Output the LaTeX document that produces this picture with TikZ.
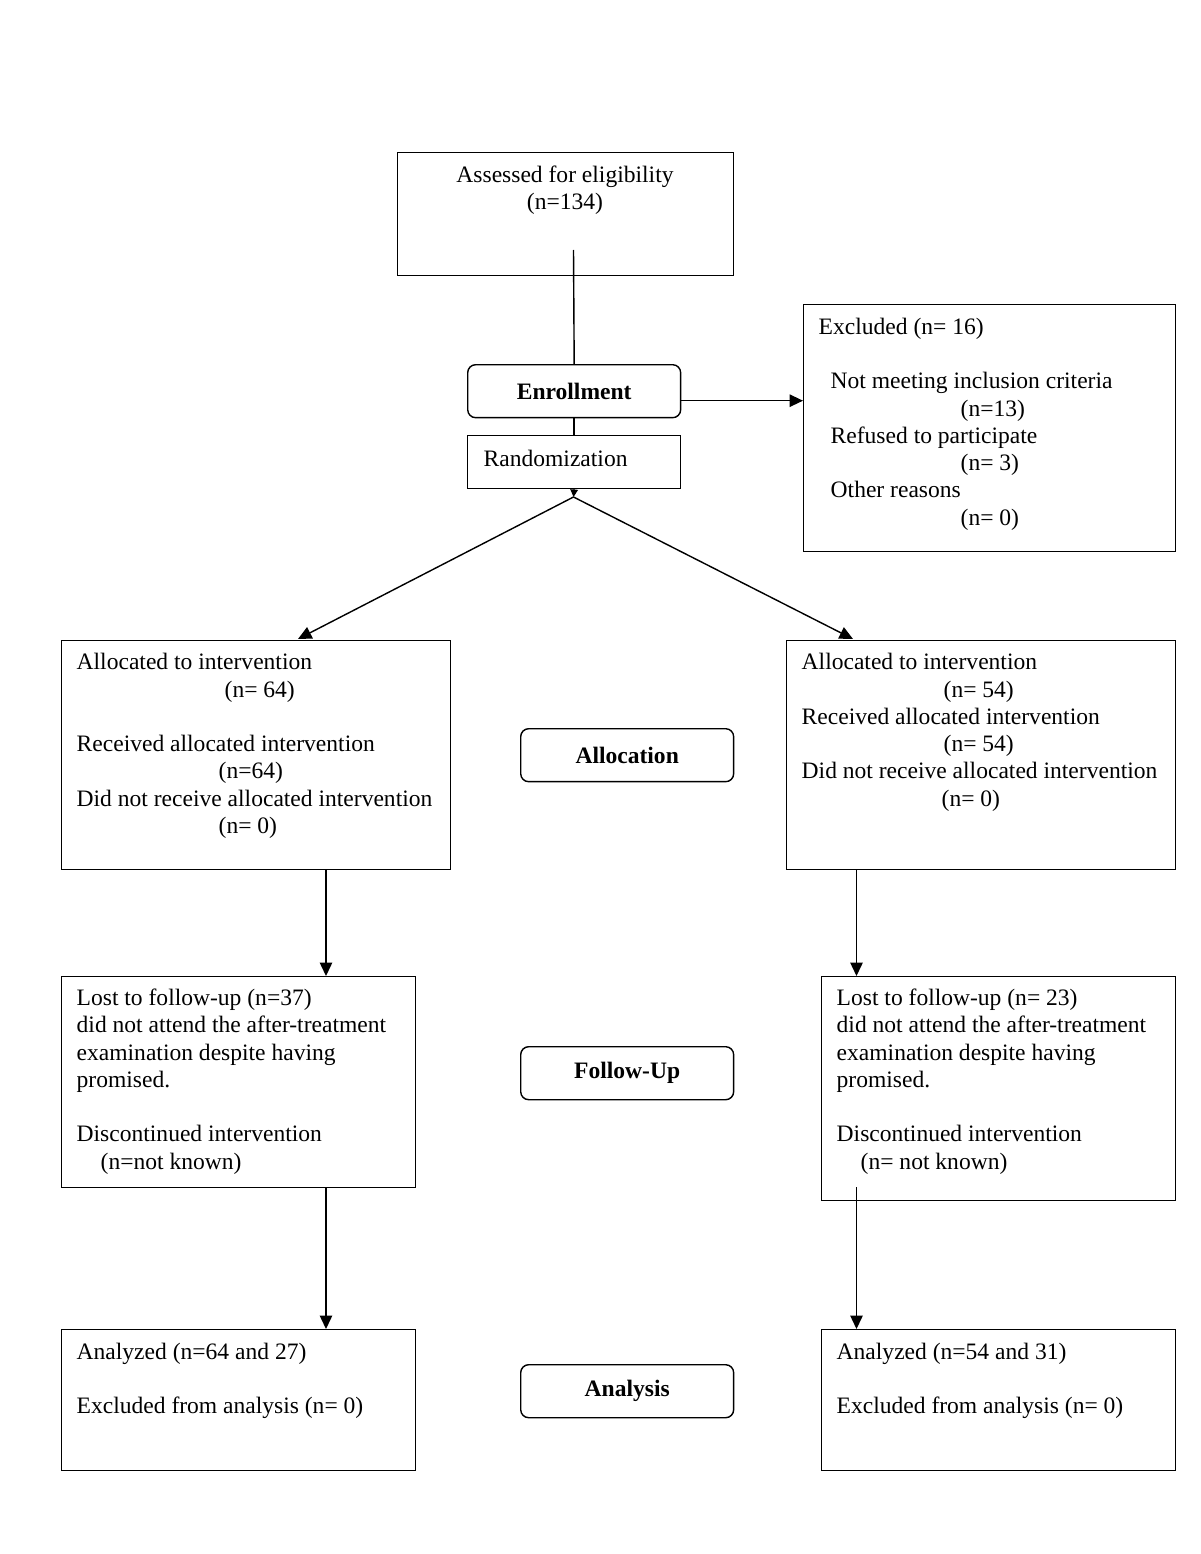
\documentclass[tikz,border=0pt]{standalone}
\usepackage{fontspec}
\setmainfont{Liberation Serif}
\usetikzlibrary{arrows.meta}

\begin{document}
\begin{tikzpicture}[x=0.02cm, y=-0.02cm, line width=.8pt,
  every node/.style={font=\fontsize{13.4}{15.5}\selectfont},
  box/.style={draw, anchor=north west, inner sep=0pt},
  phase/.style={draw, rounded corners=.16cm, anchor=north west, inner sep=0pt,
    minimum width=4.26cm, minimum height=1.06cm, font=\fontsize{13.4}{15.5}\selectfont\bfseries},
  txt/.style={anchor=north west, align=left, inner sep=0pt, execute at begin node=\strut},
  arr/.style={-{Triangle[length=.27cm,width=.25cm]}}]
\useasboundingbox (0,0) rectangle (1200,1554);

% enrollment
\node[box, minimum width=6.72cm, minimum height=2.46cm] (assess) at (397,152) {};
\node[anchor=north, align=center, inner sep=0pt, execute at begin node=\strut] at (565,165.4) {Assessed for eligibility\\(n=134)};
\node[phase] (enrol) at (467,364) {Enrollment};
\node[box, minimum width=4.26cm, minimum height=1.06cm] (rand) at (467,435) {};
\node[txt] at ([shift={(16,11.4)}]rand.north west) {Randomization};
\node[box, minimum width=7.44cm, minimum height=4.94cm] (excl) at (803,304) {};
\node[txt] at ([shift={(15,13.4)}]excl.north west) {Excluded (n= 16)\\[15.5pt]
  \hspace*{.24cm}Not meeting inclusion criteria\\
  \hspace*{2.84cm}(n=13)\\
  \hspace*{.24cm}Refused to participate\\
  \hspace*{2.84cm}(n= 3)\\
  \hspace*{.24cm}Other reasons\\
  \hspace*{2.84cm}(n= 0)};

% allocation
\node[box, minimum width=7.78cm, minimum height=4.58cm] (alloL) at (61,640) {};
\node[txt] at ([shift={(15,12.9)}]alloL.north west) {Allocated to intervention\\
  \hspace*{2.96cm}(n= 64)\\[15.5pt]
  Received allocated intervention\\
  \hspace*{2.84cm}(n=64)\\
  Did not receive allocated intervention\\
  \hspace*{2.84cm}(n= 0)};
\node[phase] (allocation) at (520,728) {Allocation};
\node[box, minimum width=7.78cm, minimum height=4.58cm] (alloR) at (786,640) {};
\node[txt] at ([shift={(15,12.9)}]alloR.north west) {Allocated to intervention\\
  \hspace*{2.84cm}(n= 54)\\
  Received allocated intervention\\
  \hspace*{2.84cm}(n= 54)\\
  Did not receive allocated intervention\\
  \hspace*{2.8cm}(n= 0)};

% follow-up
\node[box, minimum width=7.08cm, minimum height=4.22cm] (fuL) at (61,976) {};
\node[txt] at ([shift={(15,12.4)}]fuL.north west) {Lost to follow-up (n=37)\\
  did not attend the after-treatment\\
  examination despite having\\
  promised.\\[15.5pt]
  Discontinued intervention\\
  \hspace*{.48cm}(n=not known)};
\node[phase] (followup) at (520,1046) {Follow-Up};
\node[box, minimum width=7.08cm, minimum height=4.48cm] (fuR) at (821,976) {};
\node[txt] at ([shift={(15,12.4)}]fuR.north west) {Lost to follow-up (n= 23)\\
  did not attend the after-treatment\\
  examination despite having\\
  promised.\\[15.5pt]
  Discontinued intervention\\
  \hspace*{.48cm}(n= not known)};

% analysis
\node[box, minimum width=7.08cm, minimum height=2.82cm] (anL) at (61,1329) {};
\node[txt] at ([shift={(15,13.4)}]anL.north west) {Analyzed (n=64 and 27)\\[15.5pt]
  Excluded from analysis (n= 0)};
\node[phase] (analysis) at (520,1364) {Analysis};
\node[box, minimum width=7.08cm, minimum height=2.82cm] (anR) at (821,1329) {};
\node[txt] at ([shift={(15,13.4)}]anR.north west) {Analyzed (n=54 and 31)\\[15.5pt]
  Excluded from analysis (n= 0)};

% connectors
\coordinate (assessIn) at (573.5,250);
\coordinate (split) at (573.5,497);
\coordinate (inL) at (298,639);
\coordinate (inR) at (853,639);
\coordinate (colL) at (326,0);
\coordinate (colR) at (856.5,0);
\coordinate (fuRin) at (856.5,1187);
\draw (assessIn) -- (enrol.north);
\draw (enrol.south) -- (rand.north);
\draw[arr] ([yshift=-.19cm]enrol.east) -- ([yshift=-.19cm]enrol.east -| excl.west);
\draw[-{Triangle[length=.15cm,width=.15cm]}] (rand.south) -- (split);
\draw[arr] (split) -- (inL);
\draw[arr] (split) -- (inR);
\draw[arr] (colL |- alloL.south) -- (colL |- fuL.north);
\draw[arr] (colR |- alloR.south) -- (colR |- fuR.north);
\draw[arr] (colL |- fuL.south) -- (colL |- anL.north);
\draw[arr] (fuRin) -- (colR |- anR.north);
\end{tikzpicture}
\end{document}
